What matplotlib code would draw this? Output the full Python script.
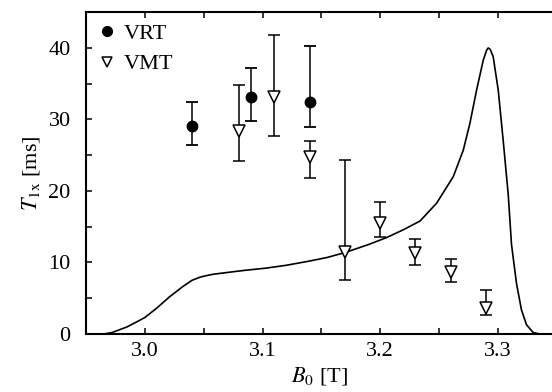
import matplotlib
matplotlib.use("Agg")
import matplotlib.pyplot as plt
from matplotlib.lines import Line2D
from matplotlib.ticker import MultipleLocator

plt.rcParams['font.family'] = ['Liberation Serif', 'DejaVu Serif']
plt.rcParams['mathtext.fontset'] = 'stix'

# VRT data (filled circles)
vrt_b = [3.04, 3.09, 3.14]
vrt_t = [29.1, 33.1, 32.4]
vrt_lo = [26.4, 29.8, 29.0]
vrt_hi = [32.5, 37.2, 40.3]

# VMT data (open triangles)
vmt_b = [3.08, 3.11, 3.14, 3.17, 3.20, 3.23, 3.26, 3.29]
vmt_t = [28.4, 33.2, 24.8, 11.4, 15.5, 11.3, 8.7, 3.6]
vmt_lo = [24.2, 27.7, 21.8, 7.6, 13.5, 9.7, 7.3, 2.7]
vmt_hi = [34.8, 41.8, 27.0, 24.3, 18.5, 13.3, 10.5, 6.1]

# calculated curve
curve_b = [2.955, 2.965, 2.972, 2.978, 2.985, 2.992, 3.0, 3.01, 3.021, 3.032,
           3.04, 3.047, 3.052, 3.058, 3.07, 3.085, 3.1025, 3.12, 3.14, 3.155,
           3.1703, 3.19, 3.2057, 3.22, 3.2339, 3.248, 3.2621, 3.2706, 3.2763,
           3.2819, 3.2876, 3.2905, 3.2918, 3.2935, 3.296, 3.3003, 3.3045,
           3.3088, 3.3116, 3.3158, 3.32, 3.3243, 3.33, 3.3356, 3.346]
curve_t = [0.0, 0.0, 0.2, 0.56, 1.0, 1.6, 2.3, 3.6, 5.2, 6.6,
           7.5, 7.95, 8.15, 8.35, 8.6, 8.9, 9.2, 9.6, 10.2, 10.7,
           11.4, 12.5, 13.5, 14.6, 15.8, 18.3, 22.0, 25.7, 29.5,
           34.1, 38.3, 39.7, 40.0, 39.8, 38.8, 34.1, 27.1,
           19.5, 12.5, 7.1, 3.4, 1.3, 0.2, 0.0, 0.0]

fig = plt.figure(figsize=(5.52, 3.92), dpi=100)
ax = fig.add_axes([0.1558, 0.148, 0.8442, 0.821])

ax.plot(curve_b, curve_t, color='black', lw=1.2)

ax.errorbar(vrt_b, vrt_t,
            yerr=[[t - l for t, l in zip(vrt_t, vrt_lo)], [h - t for t, h in zip(vrt_t, vrt_hi)]],
            fmt='o', color='black', ms=7.5, capsize=4.3, elinewidth=1.1, capthick=1.3)
ax.errorbar(vmt_b, vmt_t,
            yerr=[[t - l for t, l in zip(vmt_t, vmt_lo)], [h - t for t, h in zip(vmt_t, vmt_hi)]],
            fmt='v', color='black', mfc='white', mec='black', mew=1.1, ms=8,
            capsize=4.3, elinewidth=1.1, capthick=1.3)

ax.set_xlim(2.95, 3.346)
ax.set_ylim(0, 45)
ax.xaxis.set_minor_locator(MultipleLocator(0.05))
ax.yaxis.set_major_locator(MultipleLocator(10))
ax.yaxis.set_minor_locator(MultipleLocator(5))
ax.set_xticks([3.0, 3.1, 3.2, 3.3])
ax.set_xticklabels(['3.0', '3.1', '3.2', '3.3'])
ax.tick_params(which='both', direction='in', length=4, width=1.1, top=True, right=False,
               labelsize=16)
ax.tick_params(axis='x', pad=6)
ax.tick_params(axis='y', pad=11)
ax.spines['right'].set_visible(False)
for s in ['left', 'bottom', 'top']:
    ax.spines[s].set_linewidth(1.5)

ax.set_xlabel(r'$B_0$ [T]', fontsize=16, labelpad=3)
ax.set_ylabel(r'$T_{\mathrm{1x}}$ [ms]', fontsize=16, labelpad=5)

handles = [Line2D([], [], ls='none', marker='o', color='black', ms=7),
           Line2D([], [], ls='none', marker='v', mfc='white', mec='black', mew=1.1, ms=7)]
ax.legend(handles, ['VRT', 'VMT'], loc='upper left', bbox_to_anchor=(0.0, 0.986),
          frameon=False, fontsize=16, handletextpad=0.1, borderaxespad=0.1,
          labelspacing=0.45, handlelength=1.3, borderpad=0.2)

fig.savefig('out.png', dpi=100)
